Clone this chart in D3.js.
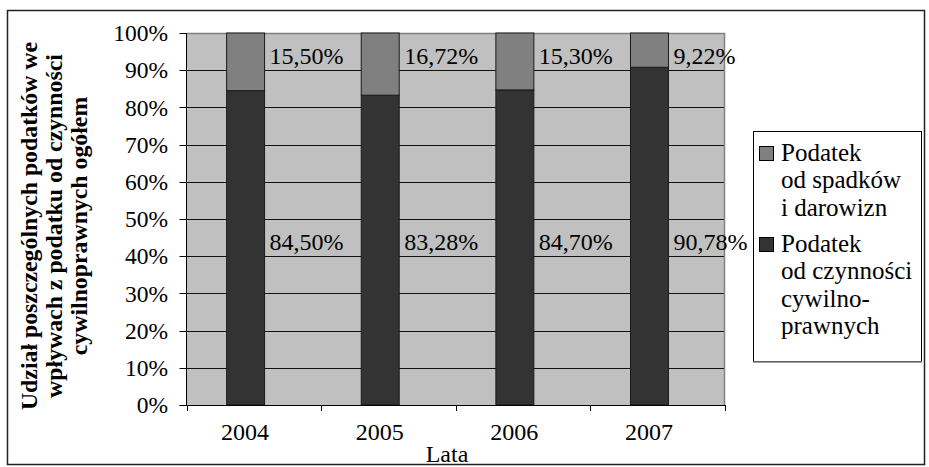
<!DOCTYPE html>
<html><head><meta charset="utf-8">
<script src="https://cdn.jsdelivr.net/npm/d3@7"></script>
<style>body{margin:0;background:#fff}svg{display:block}</style>
</head><body><svg id="c" width="929" height="467" font-family="'Liberation Serif', 'Times New Roman', Tinos, 'DejaVu Serif', serif"></svg>
<script>
const years = ["2004","2005","2006","2007"];
const civil = [84.50, 83.28, 84.70, 90.78];      // Podatek od czynności cywilnoprawnych
const inherit = [15.50, 16.72, 15.30, 9.22];     // Podatek od spadków i darowizn
const civilLabels = ["84,50%","83,28%","84,70%","90,78%"];
const inheritLabels = ["15,50%","16,72%","15,30%","9,22%"];
const yTicks = [0,10,20,30,40,50,60,70,80,90,100];
const seriesNames = [["Podatek","od spadków","i darowizn"],["Podatek","od czynności","cywilno-","prawnych"]];
const yTitle = ["Udział poszczególnych podatków we","wpływach z podatku od czynności","cywilnoprawnych ogółem"];
const xTitle = "Lata";

const colInherit = "#808080", colCivil = "#333333", plotBg = "#c0c0c0";
const svg = d3.select("#c");
const L = 186.5, R = 725, T = 33, B = 405;
const x = d3.scaleBand().domain(years).range([L, R]);
const y = d3.scaleLinear().domain([0,100]).range([B, T]);
const bw = x.bandwidth();

// outer border
svg.append("rect").attr("x",7.5).attr("y",10.5).attr("width",917).attr("height",454)
  .attr("fill","none").attr("stroke","#222").attr("stroke-width",1.5);

// plot bg
svg.append("rect").attr("x",L).attr("y",T).attr("width",R-L).attr("height",B-T).attr("fill",plotBg);
// gridlines
svg.append("g").selectAll("line").data(yTicks.filter(d=>d>0&&d<100)).join("line")
  .attr("x1",L).attr("x2",R).attr("y1",d=>Math.round(y(d))+0.5).attr("y2",d=>Math.round(y(d))+0.5)
  .attr("stroke","#111").attr("stroke-width",1);
// plot border top/right
svg.append("path").attr("d",`M${L},${T+0.5}H${R-0.5}V${B}`).attr("fill","none").attr("stroke","#808080").attr("stroke-width",1.5);

// bars
const bx = c => x(c) + bw*0.298, bwid = bw*0.282;
const g = svg.append("g");
years.forEach((c,i)=>{
  g.append("rect").attr("x",bx(c)).attr("y",y(civil[i])).attr("width",bwid).attr("height",y(0)-y(civil[i]))
    .attr("fill",colCivil).attr("stroke","#1a1a1a").attr("stroke-width",1);
  g.append("rect").attr("x",bx(c)).attr("y",y(100)).attr("width",bwid).attr("height",y(civil[i])-y(100))
    .attr("fill",colInherit).attr("stroke","#1a1a1a").attr("stroke-width",1);
  svg.append("text").attr("x",bx(c)+bwid+5).attr("y",y(91.8)).attr("font-size",24).text(inheritLabels[i]);
  svg.append("text").attr("x",bx(c)+bwid+5).attr("y",y(41.8)).attr("font-size",24).text(civilLabels[i]);
});

// y axis
const ya = svg.append("g");
ya.append("line").attr("x1",L).attr("x2",L).attr("y1",T).attr("y2",B).attr("stroke","#000");
ya.selectAll("line.t").data(yTicks).join("line").attr("class","t")
  .attr("x1",L-7).attr("x2",L).attr("y1",d=>Math.round(y(d))+0.5).attr("y2",d=>Math.round(y(d))+0.5).attr("stroke","#000");
ya.selectAll("text").data(yTicks).join("text").attr("x",168).attr("y",d=>y(d)).attr("dy","0.35em")
  .attr("text-anchor","end").attr("font-size",23.5).text(d=>d+"%");

// x axis
const xa = svg.append("g");
xa.append("line").attr("x1",L-7).attr("x2",R).attr("y1",B+0.5).attr("y2",B+0.5).attr("stroke","#000");
const bounds = years.map(c=>x(c)).concat([R]);
xa.selectAll("line.t").data(bounds).join("line").attr("class","t")
  .attr("x1",d=>Math.round(d)+0.5).attr("x2",d=>Math.round(d)+0.5).attr("y1",B).attr("y2",B+6).attr("stroke","#000");
xa.selectAll("text").data(years).join("text").attr("x",c=>x(c)+bw*0.435).attr("y",440)
  .attr("text-anchor","middle").attr("font-size",24).text(d=>d);
svg.append("text").attr("x",447).attr("y",462).attr("text-anchor","middle").attr("font-size",24).text(xTitle);

// y title
const yt = svg.append("text").attr("transform","translate(0,226) rotate(-90)").attr("text-anchor","middle")
  .attr("font-size",23.8).attr("font-weight","bold");
yTitle.forEach((t,i)=>yt.append("tspan").attr("x",0).attr("y",37+i*25).text(t));

// legend
svg.append("rect").attr("x",753.5).attr("y",131.5).attr("width",168).attr("height",230)
  .attr("fill","#fff").attr("stroke","#000").attr("stroke-width",1);
svg.append("line").attr("x1",753).attr("x2",922).attr("y1",362).attr("y2",362).attr("stroke","#808080").attr("stroke-width",1.5);
const legTop = [146, 237];
[colInherit, colCivil].forEach((col,i)=>{
  svg.append("rect").attr("x",759.5).attr("y",legTop[i]+0.5).attr("width",14).attr("height",14)
    .attr("fill",col).attr("stroke","#000");
  const t = svg.append("text").attr("font-size",25);
  seriesNames[i].forEach((s,j)=>t.append("tspan").attr("x",781).attr("y",legTop[i]+15+j*27.3).text(s));
});
</script></body></html>
